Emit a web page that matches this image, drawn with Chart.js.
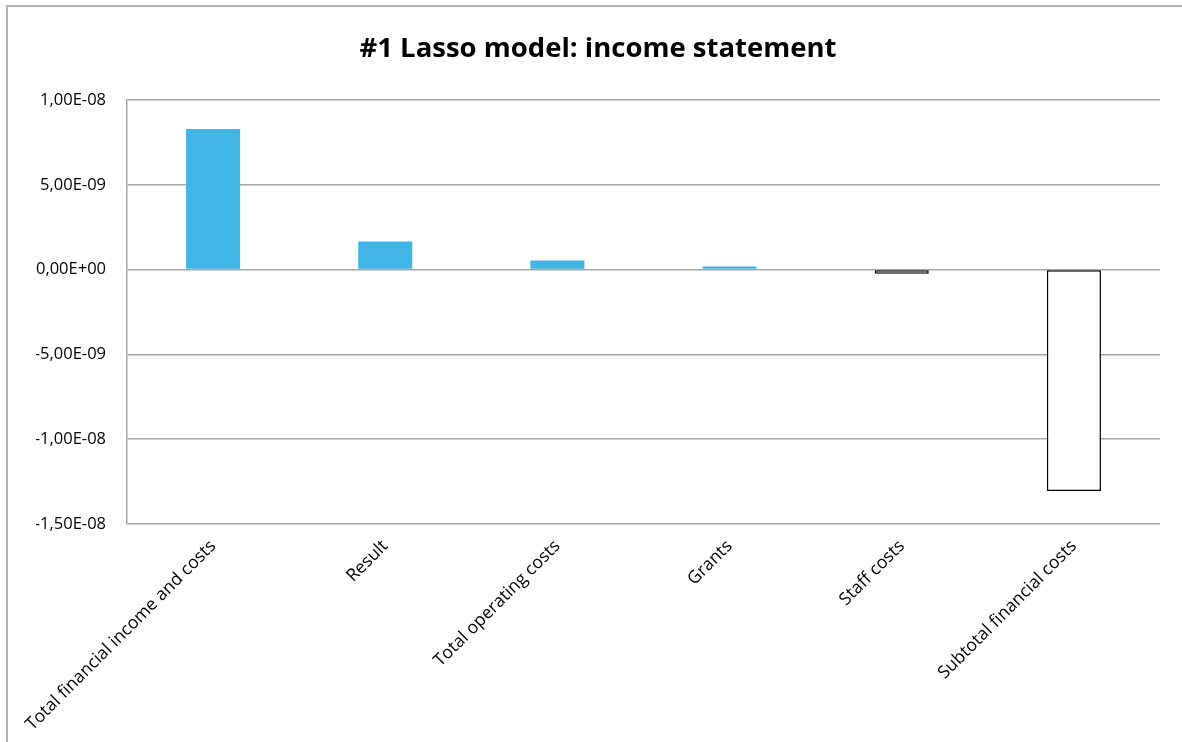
<!DOCTYPE html>
<html>
<head>
<meta charset="utf-8">
<script src="https://cdn.jsdelivr.net/npm/chart.js@4"></script>
<style>
  body { margin: 0; background: #fff; }
  #wrap { position: relative; width: 1182px; height: 742px; overflow: hidden; }
  #frame { position: absolute; left: 6px; top: 5px; width: 1200px; height: 760px;
           border-top: 2px solid #b0b0b0; border-left: 2px solid #b0b0b0; pointer-events: none; }
</style>
</head>
<body>
<div id="wrap">
  <canvas id="myChart" width="1182" height="742"></canvas>
  <div id="frame"></div>
</div>
<script>
// data
const categories = ["Total financial income and costs", "Result", "Total operating costs", "Grants", "Staff costs", "Subtotal financial costs"];
const coefs = [8.29e-9, 1.65e-9, 0.53e-9, 0.18e-9, -0.24e-9, -13.05e-9];
const yTicks = [-1.5e-8, -1e-8, -5e-9, 0, 5e-9, 1e-8];

function sci(v) {
    if (v === 0) return "0,00E+00";
    const parts = v.toExponential(2).split("e");
    const n = parseInt(parts[1]);
    return parts[0].replace(".", ",") + "E" + (n < 0 ? "-" : "+") + String(Math.abs(n)).padStart(2, "0");
}

const font = "'Open Sans', 'Noto Sans', sans-serif";
const ctx = document.getElementById('myChart');
new Chart(ctx, {
    type: 'bar',
    data: {
        labels: categories,
        datasets: [{
            data: coefs,
            backgroundColor: coefs.map(v => v < 0 ? "#ffffff" : "#41b5e6"),
            borderColor: coefs.map(v => v < 0 ? "#000000" : "#41b5e6"),
            borderWidth: coefs.map(v => v < 0 ? 1.5 : 0),
            borderSkipped: false,
            categoryPercentage: 1,
            barPercentage: 0.314
        }]
    },
    options: {
        responsive: false,
        animation: false,
        layout: { padding: { left: 36, right: 22, top: 0, bottom: 0 } },
        plugins: {
            legend: { display: false },
            tooltip: { enabled: false },
            title: {
                display: true,
                text: "#1 Lasso model: income statement",
                color: "#000",
                font: { family: font, size: 27.5, weight: 'bold' },
                padding: { top: 33, bottom: 34 }
            }
        },
        scales: {
            y: {
                min: -1.5e-8,
                max: 1e-8,
                afterBuildTicks: s => { s.ticks = yTicks.map(v => ({ value: v })); },
                afterFit: s => { s.width = 91; },
                grid: { color: "#a6a6a6", lineWidth: 1.5, drawTicks: false },
                border: { display: true, color: "#a6a6a6", width: 1.5 },
                ticks: {
                    color: "#000",
                    padding: 21,
                    font: { family: font, size: 16.5 },
                    callback: v => sci(v)
                }
            },
            x: {
                afterFit: s => { s.height = 218; },
                grid: { display: false, drawTicks: false },
                border: { display: false },
                ticks: {
                    color: "#000",
                    minRotation: 45,
                    maxRotation: 45,
                    autoSkip: false,
                    padding: 12,
                    font: { family: font, size: 17.5 }
                }
            }
        }
    }
});
</script>
</body>
</html>
